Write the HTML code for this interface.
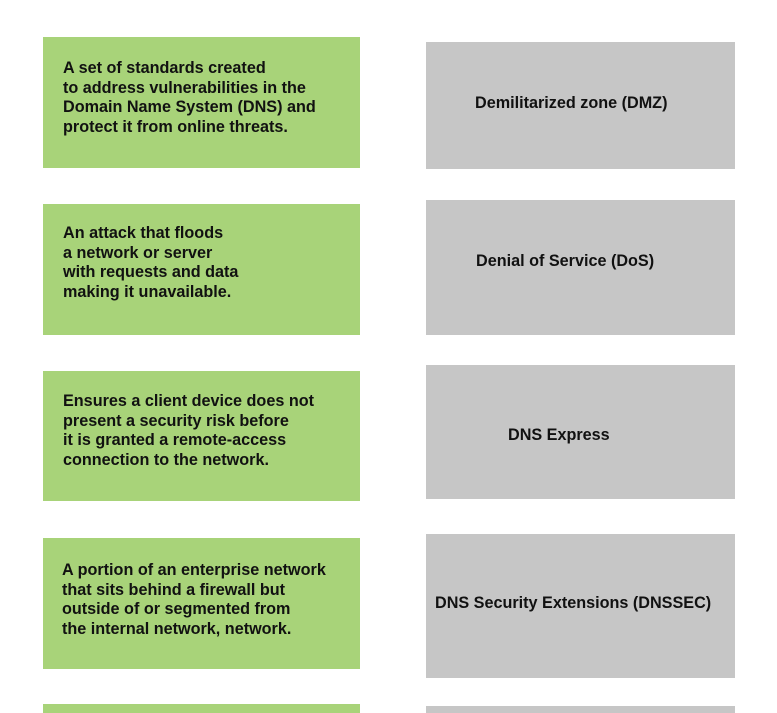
<!DOCTYPE html>
<html><head><style>
html,body{margin:0;height:713px}
body{width:777px;background:#fff;position:relative;overflow:hidden;font-family:"Liberation Sans",Arial,sans-serif;font-weight:bold;color:#111}
.g{position:absolute;left:43px;width:317px;background:#a8d379}
.r{position:absolute;left:426px;width:309px;background:#c6c6c6}
.t{position:absolute;font-size:16.2px;line-height:19.5px;white-space:pre}
</style></head><body>
<div class="g" style="top:37px;height:131px"></div>
<div class="g" style="top:204px;height:131px"></div>
<div class="g" style="top:371px;height:130px"></div>
<div class="g" style="top:538px;height:131px"></div>
<div class="g" style="top:704px;height:9px"></div>
<div class="r" style="top:42px;height:127px"></div>
<div class="r" style="top:200px;height:135px"></div>
<div class="r" style="top:365px;height:134px"></div>
<div class="r" style="top:534px;height:144px"></div>
<div class="r" style="top:706px;height:7px"></div>

<div class="t" style="left:63px;top:59px">A set of standards created
to address vulnerabilities in the
Domain Name System (DNS) and
protect it from online threats.</div>
<div class="t" style="left:63px;top:224px">An attack that floods
a network or server
with requests and data
making it unavailable.</div>
<div class="t" style="left:63px;top:392px">Ensures a client device does not
present a security risk before
it is granted a remote-access
connection to the network.</div>
<div class="t" style="left:62px;top:561px">A portion of an enterprise network
that sits behind a firewall but
outside of or segmented from
the internal network, network.</div>

<div class="t" style="left:475px;top:94px">Demilitarized zone (DMZ)</div>
<div class="t" style="left:476px;top:252px">Denial of Service (DoS)</div>
<div class="t" style="left:508px;top:426px">DNS Express</div>
<div class="t" style="left:435px;top:594px">DNS Security Extensions (DNSSEC)</div>
</body></html>
